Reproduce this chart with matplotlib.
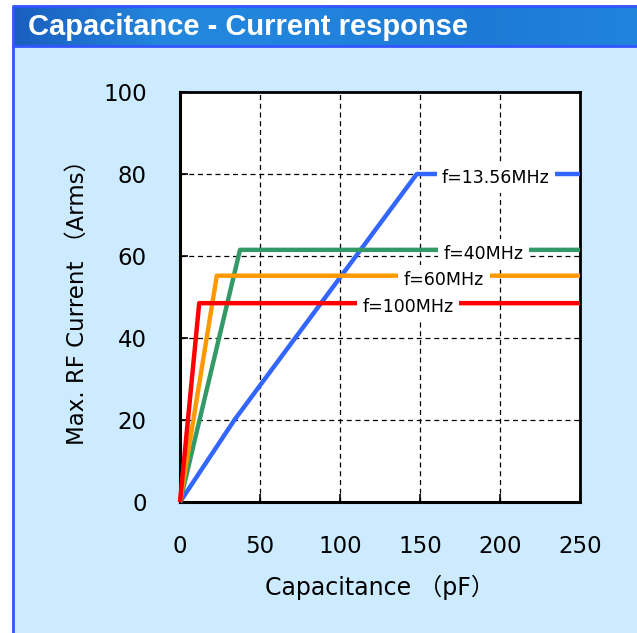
import matplotlib
matplotlib.use("Agg")
import matplotlib.pyplot as plt
import numpy as np
from matplotlib.patches import Rectangle
from matplotlib.colors import LinearSegmentedColormap

plt.rcParams['font.family'] = ['DejaVu Sans', 'Noto Sans CJK JP']

# ---- data ----
title = "Capacitance - Current response"
xlabel = "Capacitance （pF）"
ylabel = "Max. RF Current （Arms）"
xticks = [0, 50, 100, 150, 200, 250]
yticks = [0, 20, 40, 60, 80, 100]

series_names = ["f=13.56MHz", "f=40MHz", "f=60MHz", "f=100MHz"]
series_colors = ["#3366FF", "#339966", "#FF9900", "#FF0000"]
x_13 = [0, 34, 148, 250]
y_13 = [0, 20, 80, 80]
x_40 = [0, 37.5, 250]
y_40 = [0, 61.5, 61.5]
x_60 = [0, 23, 250]
y_60 = [0, 55.2, 55.2]
x_100 = [0, 12, 250]
y_100 = [0, 48.5, 48.5]
label_x = [197.5, 189.5, 165, 142.7]

W, H = 637, 633
fig = plt.figure(figsize=(W / 100, H / 100), dpi=100)
fig.patch.set_facecolor("white")

# background / frame
bg = fig.add_axes([0, 0, 1, 1])
bg.set_xlim(0, W)
bg.set_ylim(H, 0)
bg.axis("off")
bg.add_patch(Rectangle((12, 5), W - 12, H - 5, facecolor="#CCEBFF", edgecolor="none"))
grad = np.linspace(0, 1, 256).reshape(1, -1)
cmap = LinearSegmentedColormap.from_list("hdr", ["#1A5FC0", "#2488DE", "#2183DC", "#1D7AD4", "#2084DC"])
bg.imshow(grad, extent=(13, W, 46, 6), aspect="auto", cmap=cmap, zorder=1)
bg.plot([12.5, 12.5, W], [H, 5.5, 5.5], color="#3355FF", lw=2, zorder=3)
bg.plot([12.5, W], [46, 46], color="#3355FF", lw=2, zorder=3)
bg.text(28, 27, title, color="white", fontsize=21, fontweight="bold",
        family=["Liberation Sans", "DejaVu Sans"], va="center", ha="left", zorder=4)

# main axes
ax = fig.add_axes([180 / W, 1 - 502 / H, 400 / W, (502 - 92) / H])
ax.set_facecolor("white")
ax.set_xlim(0, 250)
ax.set_ylim(0, 100)

xs = [x_13, x_40, x_60, x_100]
ys = [y_13, y_40, y_60, y_100]
for xv, yv, c in zip(xs, ys, series_colors):
    ax.plot(xv, yv, color=c, lw=3.2, solid_capstyle="butt", zorder=3, clip_on=False)

for name, lx, yv in zip(series_names, label_x, ys):
    ax.text(lx, yv[-1] - 1.0, name, fontsize=12.5, ha="center", va="center", color="black",
            bbox=dict(facecolor="white", edgecolor="none", pad=4), zorder=4)

ax.set_xticks(xticks)
ax.set_yticks(yticks)
ax.grid(True, color="black", linestyle=(0, (4, 3)), lw=0.9, zorder=1)
ax.tick_params(axis="both", direction="in", length=6, width=1.2, labelsize=16.5, colors="black")
ax.tick_params(axis="x", pad=24)
ax.tick_params(axis="y", pad=24)
for side in ["left", "bottom"]:
    ax.spines[side].set_linewidth(2.2)
for side in ["top", "right"]:
    ax.spines[side].set_linewidth(2.0)

ax.set_xlabel(xlabel, fontsize=17, labelpad=12)
ax.set_ylabel(ylabel, fontsize=16.5, labelpad=10)

fig.savefig("out.png", dpi=100, facecolor=fig.get_facecolor())
